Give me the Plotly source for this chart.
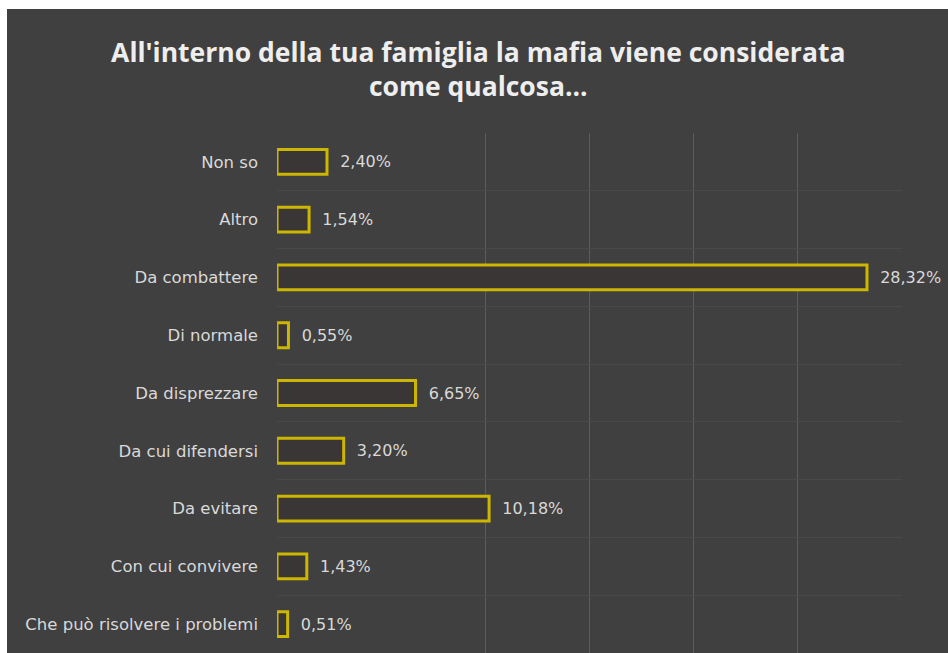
import plotly.graph_objects as go

# Survey answers (top to bottom) and their shares in percent
categories = [
    "Non so",
    "Altro",
    "Da combattere",
    "Di normale",
    "Da disprezzare",
    "Da cui difendersi",
    "Da evitare",
    "Con cui convivere",
    "Che può risolvere i problemi",
]
percentages = [2.40, 1.54, 28.32, 0.55, 6.65, 3.20, 10.18, 1.43, 0.51]

title_text = "All'interno della tua famiglia la mafia viene considerata<br>come qualcosa..."

BG = "#404040"
BAR_FILL = "#3a3636"
BAR_EDGE = "#cdb600"
TEXT = "#d9d9d9"

fig = go.Figure(
    go.Bar(
        x=percentages,
        y=categories,
        orientation="h",
        marker=dict(color=BAR_FILL, line=dict(color=BAR_EDGE, width=3)),
        texttemplate="  %{x:.2f}%",
        textposition="outside",
        outsidetextfont=dict(family="DejaVu Sans", size=16, color=TEXT),
        cliponaxis=False,
        hoverinfo="skip",
    )
)

fig.update_layout(
    width=948,
    height=653,
    separators=",.",
    paper_bgcolor="white",
    plot_bgcolor=BG,
    margin=dict(l=277, r=46, t=133, b=0, pad=0),
    bargap=0.57,
    showlegend=False,
    title=dict(
        text=title_text,
        x=0.5045,
        xanchor="center",
        y=0.905,
        yanchor="top",
        font=dict(family="Open Sans", size=26.5, color="#eeeeee", weight="bold"),
    ),
    # dark chart panel behind everything, leaving a thin white border top/left
    shapes=[
        dict(
            type="rect",
            xref="paper",
            yref="paper",
            x0=-0.432,
            x1=1.2,
            y0=-0.2,
            y1=1.2385,
            fillcolor=BG,
            line=dict(width=0),
            layer="below",
        )
    ],
)

fig.update_xaxes(
    range=[0, 30],
    tickvals=[10, 15, 20, 25, 30],
    showticklabels=False,
    showgrid=True,
    gridcolor="#5c5c5c",
    gridwidth=1,
    zeroline=False,
    showline=False,
)

fig.update_yaxes(
    autorange="reversed",
    tickson="boundaries",
    showgrid=True,
    gridcolor="#494949",
    ticks="",
    ticklabelstandoff=18,
    tickfont=dict(family="DejaVu Sans", size=16.5, color=TEXT),
    showline=False,
    zeroline=False,
)

fig.write_html("out.html")
